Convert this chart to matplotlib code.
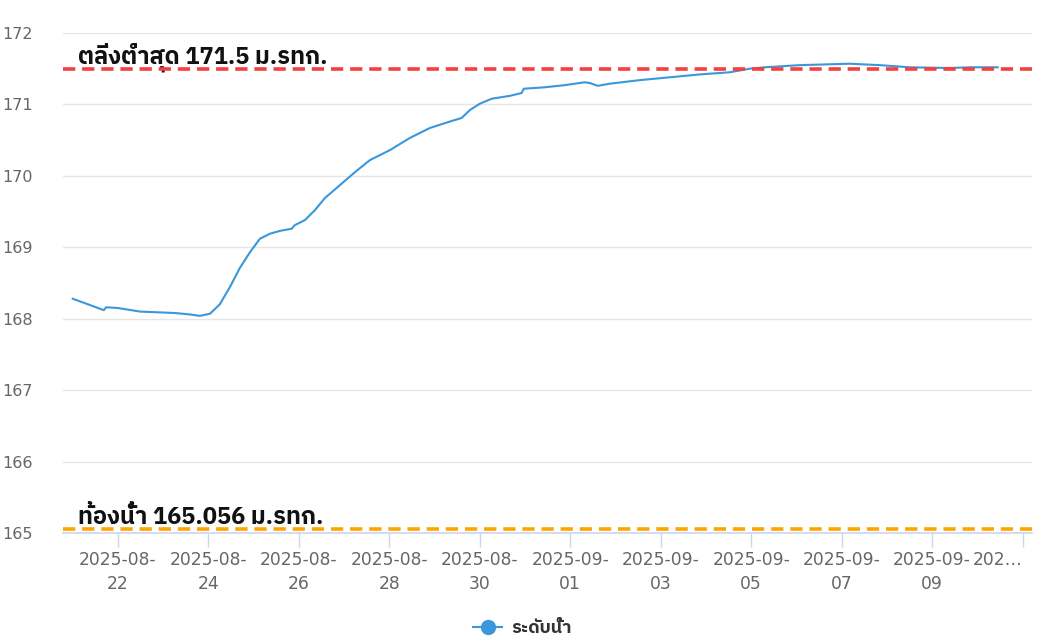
import matplotlib
matplotlib.use("Agg")
import matplotlib.pyplot as plt
import numpy as np
import pandas as pd

# water level readings (metres above mean sea level)
times = [
    "2025-08-21 00:00", "2025-08-21 16:30", "2025-08-21 17:40", "2025-08-22 00:00",
    "2025-08-22 11:40", "2025-08-23 06:10", "2025-08-23 14:10", "2025-08-23 19:30",
    "2025-08-24 00:50", "2025-08-24 06:00", "2025-08-24 11:20", "2025-08-24 16:40",
    "2025-08-24 22:00", "2025-08-25 03:20", "2025-08-25 08:40", "2025-08-25 14:00",
    "2025-08-25 20:10", "2025-08-25 21:50", "2025-08-26 03:10", "2025-08-26 08:30",
    "2025-08-26 13:50", "2025-08-26 21:45", "2025-08-27 05:40", "2025-08-27 13:40",
    "2025-08-28 00:15", "2025-08-28 10:50", "2025-08-28 21:30", "2025-08-29 08:05",
    "2025-08-29 14:20", "2025-08-29 18:40", "2025-08-30 00:00", "2025-08-30 06:20",
    "2025-08-30 15:55", "2025-08-30 22:10", "2025-08-30 23:20", "2025-08-31 10:30",
    "2025-08-31 21:05", "2025-09-01 07:40", "2025-09-01 10:20", "2025-09-01 14:35",
    "2025-09-01 20:50", "2025-09-02 12:50", "2025-09-03 04:50", "2025-09-03 20:40",
    "2025-09-04 12:35", "2025-09-04 23:10", "2025-09-05 07:10", "2025-09-06 01:45",
    "2025-09-07 04:15", "2025-09-07 20:10", "2025-09-08 12:00", "2025-09-09 09:15",
    "2025-09-09 19:50", "2025-09-10 10:45",
]
levels = [
    168.28, 168.12, 168.16, 168.15,
    168.10, 168.08, 168.06, 168.04,
    168.07, 168.20, 168.44, 168.71,
    168.93, 169.12, 169.19, 169.23,
    169.26, 169.31, 169.38, 169.52,
    169.69, 169.87, 170.05, 170.22,
    170.36, 170.53, 170.67, 170.76,
    170.81, 170.92, 171.01, 171.08,
    171.12, 171.16, 171.22, 171.24,
    171.27, 171.31, 171.30, 171.26,
    171.29, 171.34, 171.38, 171.42,
    171.45, 171.50, 171.52, 171.55,
    171.57, 171.55, 171.52, 171.51,
    171.52, 171.52,
]

bank_level = 171.5
bed_level = 165.056
bank_label = "ตลิ่งต่ำสุด 171.5 ม.รทก."
bed_label = "ท้องน้ำ 165.056 ม.รทก."
series_name = "ระดับน้ำ"

tick_dates = pd.date_range("2025-08-22", "2025-09-11", freq="2D")
tick_labels = [d.strftime("%Y-%m-\n%d") for d in tick_dates[:-1]] + ["202…"]

thai_font = ["IBM Plex Sans Thai", "Noto Sans Thai", "DejaVu Sans"]

x = pd.to_datetime(times)

fig = plt.figure(figsize=(10.45, 6.4), dpi=100)
ax = fig.add_axes([63 / 1045, 1 - 533 / 640, (1032 - 63) / 1045, 500 / 640])

ax.plot(x, levels, color="#3a97d9", lw=1.5, zorder=3)

ax.axhline(bank_level, color="#f54040", lw=2.6, ls=(0, (3.4, 1.9)), zorder=4)
ax.axhline(bed_level, color="#ffa500", lw=2.6, ls=(0, (3.4, 1.9)), zorder=4)

label_x = pd.Timestamp("2025-08-21 02:40")
for level, text in ((bank_level, bank_label), (bed_level, bed_label)):
    ax.text(label_x, level + 0.075, text, family=thai_font, fontsize=17,
            fontweight="bold", color="#111111", va="baseline", ha="left")

ax.set_ylim(165, 172)
ax.set_yticks(np.arange(165, 173, 1))
ax.set_xlim(pd.Timestamp("2025-08-20 18:50"), pd.Timestamp("2025-09-11 05:00"))
ax.set_xticks(tick_dates)
ax.set_xticklabels(tick_labels, linespacing=1.45)
ax.get_xticklabels()[-1].set_ha("right")

ax.grid(axis="y", color="#e6e6e6", lw=1)
ax.set_axisbelow(True)
for side in ("left", "right", "top"):
    ax.spines[side].set_visible(False)
ax.spines["bottom"].set_color("#ccd6eb")
ax.spines["bottom"].set_linewidth(1.2)

ax.tick_params(axis="y", length=0, pad=22, labelsize=11.5, labelcolor="#666666")
ax.tick_params(axis="x", length=10, width=1, color="#ccd6eb", pad=3,
               labelsize=12.3, labelcolor="#666666")

handle = plt.Line2D([], [], color="#3a97d9", lw=1.5, marker="o", markersize=10)
leg = fig.legend([handle], [series_name], loc="center", bbox_to_anchor=(0.5, 1 - 628 / 640),
                 frameon=False, handlelength=1.6, handletextpad=0.5,
                 prop={"family": thai_font, "size": 13, "weight": "bold"})
for t in leg.get_texts():
    t.set_color("#333333")

fig.savefig("out.png", dpi=100)
